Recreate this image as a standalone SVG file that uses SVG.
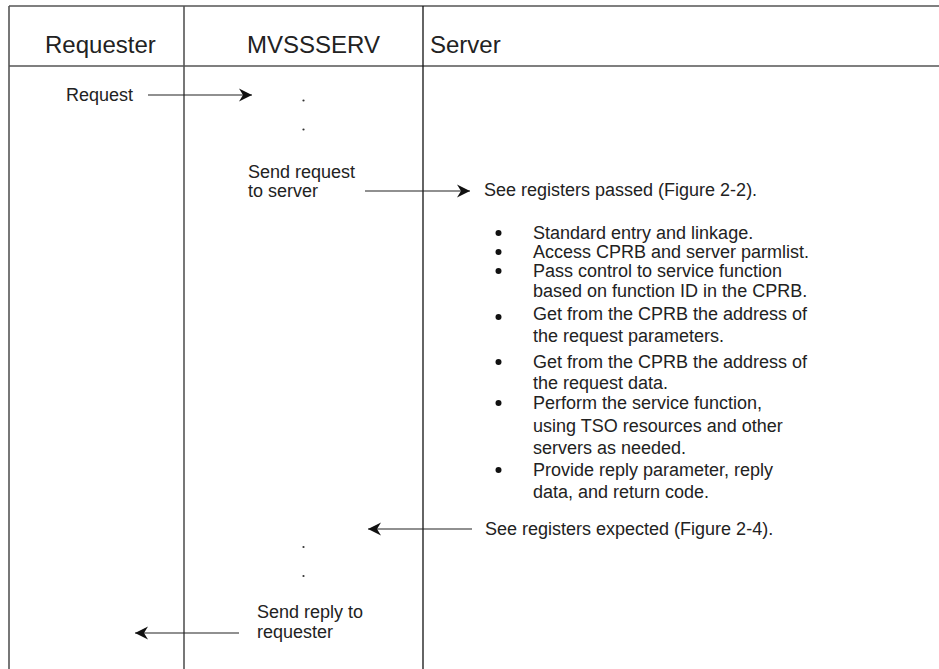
<svg xmlns="http://www.w3.org/2000/svg" width="939" height="669" viewBox="0 0 939 669">
<defs>
<style>
.t{font-family:"Liberation Sans",Arial,sans-serif;font-size:18px;fill:#222}
.h{font-family:"Liberation Sans",Arial,sans-serif;font-size:24px;fill:#222}
.frame{stroke:#555;stroke-width:1.6;fill:none}
.col{stroke:#111;stroke-width:1.3;fill:none}
.conn{stroke:#222;stroke-width:1.2;fill:none}
.dot{fill:#333}
.bul{fill:#111}
</style>
<marker id="ah" markerUnits="userSpaceOnUse" markerWidth="16" markerHeight="16" viewBox="-14 -8 16 16" refX="0" refY="0" orient="auto">
<path d="M0,0 L-13,-6.5 L-9,0 L-13,6.5 Z" fill="#111"/>
</marker>
</defs>
<rect width="939" height="669" fill="#fff"/>
<g id="frame">
<line class="frame" x1="9" y1="6" x2="939" y2="6"/>
<line class="frame" x1="9" y1="66" x2="939" y2="66"/>
<line class="frame" x1="9" y1="6" x2="9" y2="669"/>
<line class="frame" x1="184" y1="6" x2="184" y2="669"/>
<line class="col" x1="423" y1="6" x2="423" y2="669"/>
</g>
<g id="header-requester"><text class="h" x="45" y="53">Requester</text></g>
<g id="header-mvssserv"><text class="h" x="247" y="53">MVSSSERV</text></g>
<g id="header-server"><text class="h" x="430" y="53">Server</text></g>
<g id="request"><text class="t" x="66" y="101">Request</text></g>
<g id="dots-top">
<circle class="dot" cx="303.5" cy="100.5" r="1.1"/>
<circle class="dot" cx="303.5" cy="129.5" r="1.1"/>
</g>
<g id="send-request"><text class="t" x="248" y="178">Send request</text><text class="t" x="248" y="197">to server</text></g>
<g id="registers-passed"><text class="t" x="484" y="196">See registers passed (Figure 2-2).</text></g>
<g id="server-steps">
<circle class="bul" cx="498.5" cy="233" r="3"/>
<text class="t" x="533" y="239">Standard entry and linkage.</text>
<circle class="bul" cx="498.5" cy="252" r="3"/>
<text class="t" x="533" y="258">Access CPRB and server parmlist.</text>
<circle class="bul" cx="498.5" cy="271" r="3"/>
<text class="t" x="533" y="277">Pass control to service function</text>
<text class="t" x="533" y="297">based on function ID in the CPRB.</text>
<circle class="bul" cx="498.5" cy="317" r="3"/>
<text class="t" x="533" y="320">Get from the CPRB the address of</text>
<text class="t" x="533" y="342">the request parameters.</text>
<circle class="bul" cx="498.5" cy="362" r="3"/>
<text class="t" x="533" y="368">Get from the CPRB the address of</text>
<text class="t" x="533" y="389">the request data.</text>
<circle class="bul" cx="498.5" cy="403" r="3"/>
<text class="t" x="533" y="409">Perform the service function,</text>
<text class="t" x="533" y="432">using TSO resources and other</text>
<text class="t" x="533" y="454">servers as needed.</text>
<circle class="bul" cx="498.5" cy="470" r="3"/>
<text class="t" x="533" y="476">Provide reply parameter, reply</text>
<text class="t" x="533" y="498">data, and return code.</text>
</g>
<g id="registers-expected"><text class="t" x="485" y="535">See registers expected (Figure 2-4).</text></g>
<g id="dots-bottom">
<circle class="dot" cx="303.5" cy="547" r="1.1"/>
<circle class="dot" cx="303.5" cy="576" r="1.1"/>
</g>
<g id="send-reply"><text class="t" x="257" y="618">Send reply to</text><text class="t" x="257" y="638">requester</text></g>
<g id="connectors">
<line class="conn" x1="148" y1="95" x2="252" y2="95" marker-end="url(#ah)"/>
<line class="conn" x1="365" y1="191" x2="470" y2="191" marker-end="url(#ah)"/>
<line class="conn" x1="472" y1="529" x2="368" y2="529" marker-end="url(#ah)"/>
<line class="conn" x1="239" y1="633" x2="135" y2="633" marker-end="url(#ah)"/>
</g>
</svg>
